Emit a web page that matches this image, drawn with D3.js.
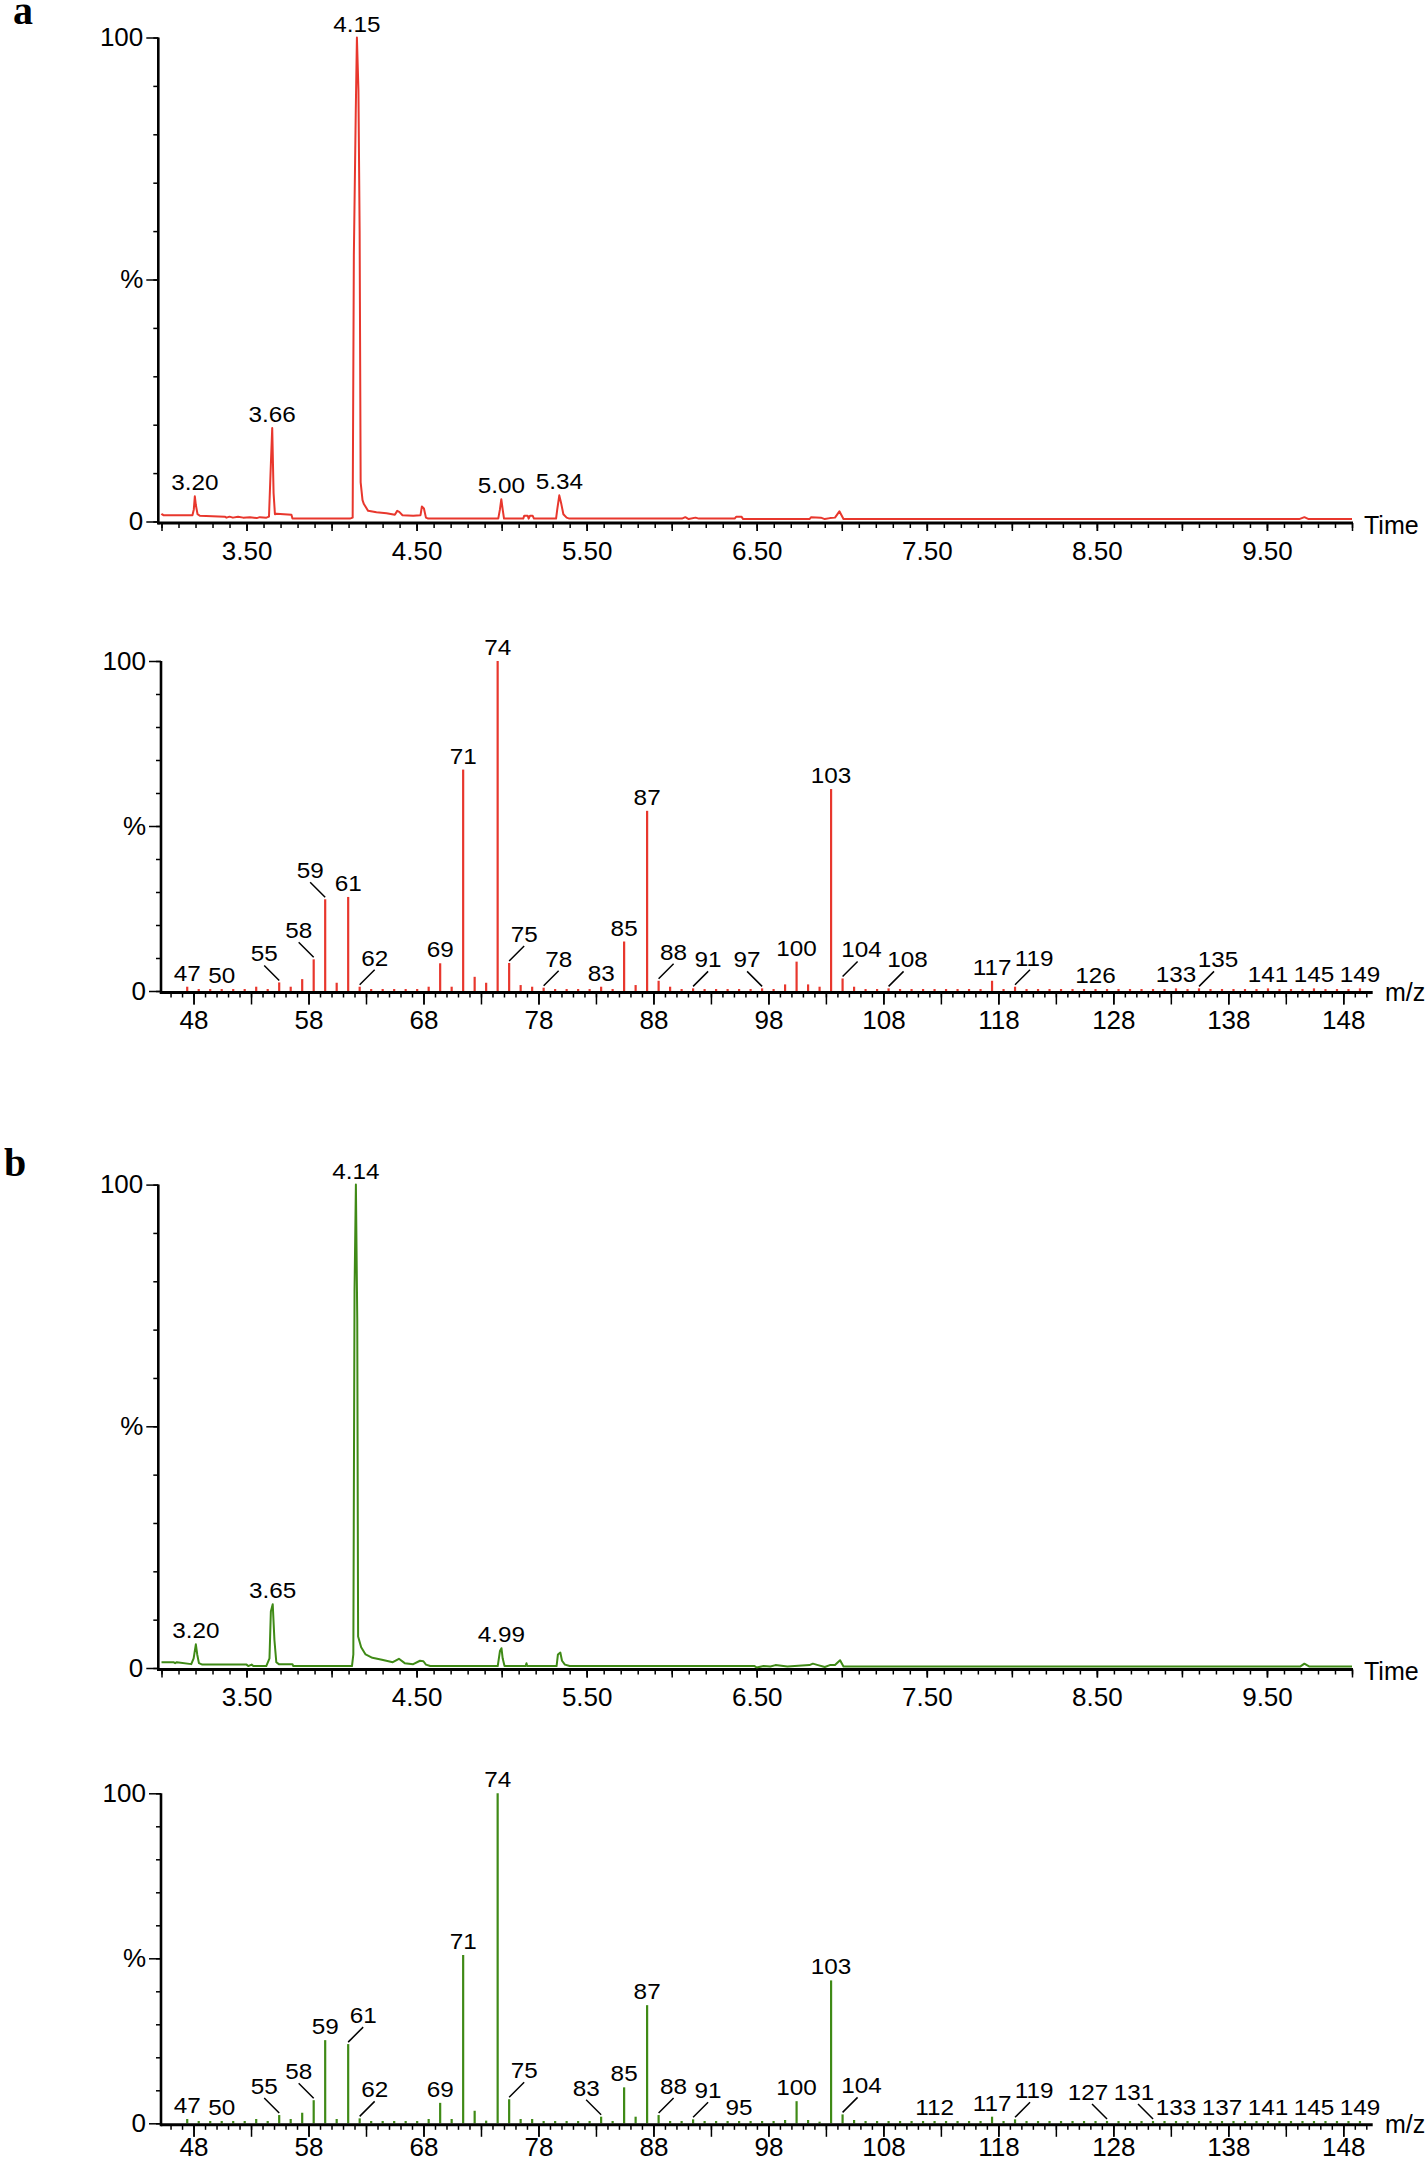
<!DOCTYPE html>
<html>
<head>
<meta charset="utf-8">
<script src="https://cdn.jsdelivr.net/npm/d3@7"></script>
<style>
  body { margin: 0; background: #fff; }
  svg text { font-family: "Liberation Sans", Arial, sans-serif; fill: #000; }
  .axis line { stroke: #000; stroke-width: 1.5; }
</style>
</head>
<body>
<svg id="fig" width="1428" height="2165"></svg>
<script>
// Chromatograms: [retention time (min), relative intensity (%)]
var chromA = [
  [3.000,1.3],[3.005,1.5],[3.012,1.3],[3.182,1.3],[3.190,2.5],[3.196,5.2],[3.202,3.4],[3.212,1.5],
  [3.225,1.2],[3.372,1.0],[3.382,0.8],[3.400,1.0],[3.420,0.8],[3.450,1.0],[3.480,0.8],[3.520,0.9],
  [3.560,0.7],[3.578,0.9],[3.617,0.8],[3.632,1.0],[3.643,11.8],[3.651,19.3],[3.659,5.9],[3.667,1.5],
  [3.676,1.6],[3.764,1.4],[3.770,0.6],[4.108,0.6],[4.124,0.8],[4.131,55],[4.142,84],[4.149,100],
  [4.158,89],[4.165,60],[4.171,8.1],[4.182,4.4],[4.190,3.6],[4.215,2.2],[4.264,1.9],[4.323,1.7],
  [4.372,1.4],[4.386,2.2],[4.398,2.0],[4.417,1.3],[4.480,1.2],[4.523,1.3],[4.531,3.1],[4.543,2.7],
  [4.555,0.8],[4.568,0.6],[4.980,0.6],[4.990,2.5],[4.998,4.6],[5.006,2.5],[5.014,0.6],[5.127,0.6],
  [5.133,1.2],[5.153,1.2],[5.159,0.6],[5.167,1.2],[5.182,1.2],[5.190,0.6],[5.320,0.6],[5.327,2.5],
  [5.339,5.4],[5.351,3.6],[5.363,1.5],[5.382,0.8],[5.398,0.6],[6.060,0.6],[6.080,0.9],[6.100,0.5],
  [6.140,0.8],[6.160,0.6],[6.370,0.6],[6.380,1.0],[6.410,1.0],[6.420,0.5],[6.810,0.5],[6.820,0.9],
  [6.877,0.8],[6.900,0.5],[6.930,0.7],[6.960,0.8],[6.986,2.1],[7.010,0.5],[9.690,0.5],[9.720,0.9],
  [9.745,0.5],[10.000,0.5]
];
var chromB = [
  [3.000,1.2],[3.070,1.2],[3.080,1.0],[3.090,1.2],[3.175,0.8],[3.189,2.0],[3.202,4.9],[3.210,2.8],
  [3.220,1.0],[3.240,0.7],[3.500,0.7],[3.510,0.4],[3.530,0.7],[3.540,0.4],[3.616,0.4],[3.635,2.0],
  [3.643,11.7],[3.654,13.2],[3.664,5.8],[3.675,1.2],[3.690,0.8],[3.770,0.8],[3.775,0.4],[4.120,0.4],
  [4.128,2.8],[4.135,78],[4.143,100],[4.151,72],[4.156,6.5],[4.174,4.3],[4.200,2.8],[4.240,2.1],
  [4.296,1.7],[4.360,1.2],[4.396,1.9],[4.430,1.0],[4.480,0.8],[4.520,1.5],[4.540,1.4],[4.555,0.7],
  [4.580,0.4],[4.977,0.4],[4.990,3.5],[4.999,4.1],[5.006,2.0],[5.017,0.4],[5.141,0.4],[5.146,1.0],
  [5.150,0.4],[5.323,0.4],[5.331,2.8],[5.345,3.2],[5.355,1.5],[5.372,0.7],[5.400,0.4],[6.487,0.4],
  [6.500,0.1],[6.540,0.4],[6.580,0.3],[6.610,0.6],[6.680,0.3],[6.810,0.6],[6.830,0.9],[6.860,0.6],
  [6.900,0.2],[6.930,0.6],[6.960,0.6],[6.990,1.6],[7.010,0.3],[9.695,0.3],[9.720,0.9],[9.750,0.3],
  [10.000,0.3]
];
var chromPeaksA = [[3.20,"3.20"],[3.65,"3.66"],[4.15,"4.15"],[5.00,"5.00"],[5.34,"5.34"]];
var chromPeaksB = [[3.20,"3.20"],[3.65,"3.65"],[4.14,"4.14"],[4.99,"4.99"]];

// Mass spectra: [m/z, relative abundance (%)]
var specA = [
  [47,1.3],[48,0.6],[49,0.6],[50,0.6],[51,0.6],[52,0.6],[53,1.3],[54,0.6],[55,2.6],[56,1.3],
  [57,3.6],[58,9.6],[59,27.8],[60,2.5],[61,28.5],[62,1.3],[63,0.6],[64,0.6],[65,0.6],[66,0.6],
  [67,0.6],[68,1.3],[69,8.4],[70,1.3],[71,67.1],[72,4.3],[73,2.5],[74,100],[75,8.5],[76,1.8],
  [77,1.3],[78,1.0],[79,0.6],[80,0.6],[81,0.6],[82,0.6],[83,1.3],[84,0.6],[85,15.0],[86,1.8],
  [87,54.6],[88,3.1],[89,1.3],[90,0.6],[91,0.8],[92,0.6],[93,0.6],[94,0.6],[95,0.6],[96,0.6],
  [97,0.8],[98,0.6],[99,2.0],[100,8.9],[101,2.0],[102,1.3],[103,61.2],[104,3.8],[105,1.3],[106,0.6],
  [107,0.6],[108,0.8],[109,0.6],[110,0.6],[111,0.6],[112,0.6],[113,0.6],[114,0.6],[115,0.6],[116,0.6],
  [117,3.1],[118,0.6],[119,1.3],[120,0.6],[121,0.6],[122,0.6],[123,0.6],[124,0.6],[125,0.6],[126,0.6],
  [127,0.6],[128,0.6],[129,0.6],[130,0.6],[131,0.6],[132,0.6],[133,0.8],[134,0.6],[135,0.8],[136,0.6],
  [137,0.6],[138,0.6],[139,0.6],[140,0.6],[141,0.8],[142,0.6],[143,0.6],[144,0.6],[145,0.8],[146,0.6],
  [147,0.6],[148,0.6],[149,0.8]
];
var specB = [
  [47,1.3],[48,0.7],[49,0.7],[50,0.7],[51,0.7],[52,0.7],[53,1.3],[54,0.7],[55,2.5],[56,1.3],
  [57,3.2],[58,7.0],[59,25.2],[60,1.3],[61,24.0],[62,1.5],[63,0.7],[64,0.7],[65,0.7],[66,0.7],
  [67,0.7],[68,1.3],[69,6.2],[70,1.3],[71,51.0],[72,3.8],[73,0.8],[74,100],[75,7.3],[76,1.3],
  [77,1.3],[78,0.7],[79,0.7],[80,0.7],[81,0.7],[82,0.7],[83,2.0],[84,0.7],[85,10.9],[86,2.0],
  [87,35.8],[88,2.5],[89,0.7],[90,0.7],[91,1.2],[92,0.7],[93,0.7],[94,0.7],[95,0.7],[96,0.7],
  [97,0.7],[98,0.7],[99,1.0],[100,6.7],[101,1.0],[102,0.5],[103,43.3],[104,2.7],[105,1.0],[106,0.7],
  [107,0.7],[108,0.7],[109,0.7],[110,0.7],[111,0.7],[112,0.7],[113,0.7],[114,0.7],[115,0.7],[116,0.7],
  [117,2.0],[118,0.7],[119,1.2],[120,0.7],[121,0.7],[122,0.7],[123,0.7],[124,0.7],[125,0.7],[126,0.7],
  [127,0.7],[128,0.7],[129,0.7],[130,0.7],[131,0.7],[132,0.7],[133,0.7],[134,0.7],[135,0.7],[136,0.7],
  [137,0.7],[138,0.7],[139,0.7],[140,0.7],[141,0.7],[142,0.7],[143,0.7],[144,0.7],[145,0.7],[146,0.7],
  [147,0.7],[148,0.7],[149,0.7]
];
// Labelled ions: [m/z, leader side] (0 = label right above the bar, -1/1 = leader to the left/right)
var specLabelsA = [
  [47,0],[50,0],[55,-1],[58,-1],[59,-1],[61,0],[62,1],[69,0],[71,0],[74,0],[75,1],[78,1],[83,0],
  [85,0],[87,0],[88,1],[91,1],[97,-1],[100,0],[103,0],[104,1],[108,1],[117,0],[119,1],[126,0],
  [133,0],[135,1],[141,0],[145,0],[149,0]
];
var specLabelsB = [
  [47,0],[50,0],[55,-1],[58,-1],[59,0],[61,1],[62,1],[69,0],[71,0],[74,0],[75,1],[83,-1],[85,0],
  [87,0],[88,1],[91,1],[95,0],[100,0],[103,0],[104,1],[112,0],[117,0],[119,1],[127,-1],[131,-1],
  [133,0],[137,0],[141,0],[145,0],[149,0]
];

var timeTicks = [3.5, 4.5, 5.5, 6.5, 7.5, 8.5, 9.5];
var mzTicks = [48, 58, 68, 78, 88, 98, 108, 118, 128, 138, 148];

var red = "#e8372d", green = "#3f8a16";
var binShift = 0.45;   // bars sit a little right of the nominal tick

var svg = d3.select("#fig");

var xTime = d3.scaleLinear().domain([3, 10]).range([161.5, 1352]);
var xMz = d3.scaleLinear().domain([45.17, 150.47]).range([161, 1371.7]);

// The original annotation font is a little wider than Arial, so stretch it sideways.
function peakText(g, x, y, txt) {
  g.append("text")
    .attr("transform", "translate(" + x + "," + y + ") scale(1.13,1)")
    .attr("text-anchor", "middle")
    .attr("font-size", 21.5)
    .text(txt);
}

function yAxis(g, y, x0) {
  // minor ticks every 10 %
  g.append("g").attr("class", "axis")
    .attr("transform", "translate(" + x0 + ",0)")
    .call(d3.axisLeft(y).tickValues(d3.range(0, 101, 10)).tickSize(5).tickFormat(""))
    .select(".domain").remove();
  var lab = g.append("g").attr("class", "axis")
    .attr("transform", "translate(" + x0 + ",0)")
    .call(d3.axisLeft(y).tickValues([0, 50, 100]).tickSize(12).tickPadding(3)
      .tickFormat(function(d) { return d === 50 ? "%" : d; }));
  lab.select(".domain").remove();
  lab.attr("font-size", 26);
  g.append("line")
    .attr("x1", x0).attr("x2", x0)
    .attr("y1", y(100)).attr("y2", y(0) + 3)
    .attr("stroke", "#000").attr("stroke-width", 2.6);
}

function xAxis(g, x, y0, x0, minor, major, labelled, fmt, majorLen, labelGap) {
  var ya = y0 + 1.5;
  g.append("g").attr("class", "axis")
    .attr("transform", "translate(0," + ya + ")")
    .call(d3.axisBottom(x).tickValues(minor).tickSize(5).tickFormat(""))
    .select(".domain").remove();
  g.append("g").attr("class", "axis")
    .attr("transform", "translate(0," + ya + ")")
    .call(d3.axisBottom(x).tickValues(major).tickSize(majorLen).tickFormat(""))
    .select(".domain").remove();
  var lab = g.append("g").attr("class", "axis")
    .attr("transform", "translate(0," + ya + ")")
    .call(d3.axisBottom(x).tickValues(labelled).tickSize(majorLen).tickPadding(labelGap - majorLen).tickFormat(fmt));
  lab.select(".domain").remove();
  lab.attr("font-size", 26);
  g.append("line")
    .attr("x1", x0).attr("x2", x.range()[1] + 1)
    .attr("y1", ya).attr("y2", ya)
    .attr("stroke", "#000").attr("stroke-width", 3);
}

function chromatogram(top, base, data, peaks, color) {
  var y = d3.scaleLinear().domain([0, 100]).range([base, top]);
  var g = svg.append("g");
  var x0 = xTime.range()[0] - 3.2;

  xAxis(g, xTime, base, x0,
    d3.range(30, 101).map(function(d) { return d / 10; }),
    d3.range(6, 21).map(function(d) { return d / 2; }),
    timeTicks, d3.format(".2f"), 8, 18.5);
  yAxis(g, y, x0);

  var line = d3.line()
    .x(function(d) { return xTime(d[0]); })
    .y(function(d) { return y(d[1]); });
  g.append("path")
    .datum(data)
    .attr("d", line)
    .attr("fill", "none")
    .attr("stroke", color)
    .attr("stroke-width", 2)
    .attr("stroke-linejoin", "round");

  // retention time labels above the apex
  peaks.forEach(function(p) {
    var near = data.filter(function(d) { return Math.abs(d[0] - p[0]) < 0.03; });
    var apex = near.reduce(function(a, b) { return b[1] > a[1] ? b : a; });
    peakText(g, xTime(apex[0]), y(apex[1]) - 6, p[1]);
  });

  g.append("text")
    .attr("x", 1364).attr("y", base + 12)
    .attr("font-size", 25)
    .text("Time");
}

function spectrum(top, base, data, labels, color, labelGap) {
  var y = d3.scaleLinear().domain([0, 100]).range([base, top]);
  var g = svg.append("g");
  var x0 = xMz.range()[0];

  g.selectAll("line.bar")
    .data(data)
    .enter().append("line")
      .attr("class", "bar")
      .attr("x1", function(d) { return xMz(d[0] + binShift); })
      .attr("x2", function(d) { return xMz(d[0] + binShift); })
      .attr("y1", y(0))
      .attr("y2", function(d) { return y(d[1]); })
      .attr("stroke", color)
      .attr("stroke-width", 2.2);

  xAxis(g, xMz, base, x0,
    d3.range(46, 151), d3.range(48, 150, 5), mzTicks, d3.format("d"), 12, labelGap);
  yAxis(g, y, x0);

  labels.forEach(function(l) {
    var d = data.find(function(p) { return p[0] === l[0]; });
    var px = xMz(d[0] + binShift), py = y(d[1]);
    var side = l[1];
    var txt = String(d[0]);
    if (side === 0) {
      peakText(g, px, py - 6, txt);
    } else {
      g.append("line")
        .attr("x1", px).attr("y1", py - 2)
        .attr("x2", px + side * 15).attr("y2", py - 17)
        .attr("stroke", "#000").attr("stroke-width", 1.5);
      peakText(g, px + side * (15 + (txt.length > 2 ? 4 : 0)), py - 21, txt);
    }
  });

  g.append("text")
    .attr("x", 1385).attr("y", base + 10)
    .attr("font-size", 25)
    .text("m/z");
}

chromatogram(37.5, 521.5, chromA, chromPeaksA, red);
spectrum(661, 991, specA, specLabelsA, red, 18);
chromatogram(1184.6, 1668, chromB, chromPeaksB, green);
spectrum(1793.3, 2123.3, specB, specLabelsB, green, 12.5);

// panel letters
svg.append("text")
  .attr("x", 13).attr("y", 24)
  .style("font-family", "'Liberation Serif', 'Times New Roman', serif")
  .attr("font-weight", "bold").attr("font-size", 40)
  .text("a");
svg.append("text")
  .attr("x", 4).attr("y", 1176)
  .style("font-family", "'Liberation Serif', 'Times New Roman', serif")
  .attr("font-weight", "bold").attr("font-size", 40)
  .text("b");
</script>
</body>
</html>
